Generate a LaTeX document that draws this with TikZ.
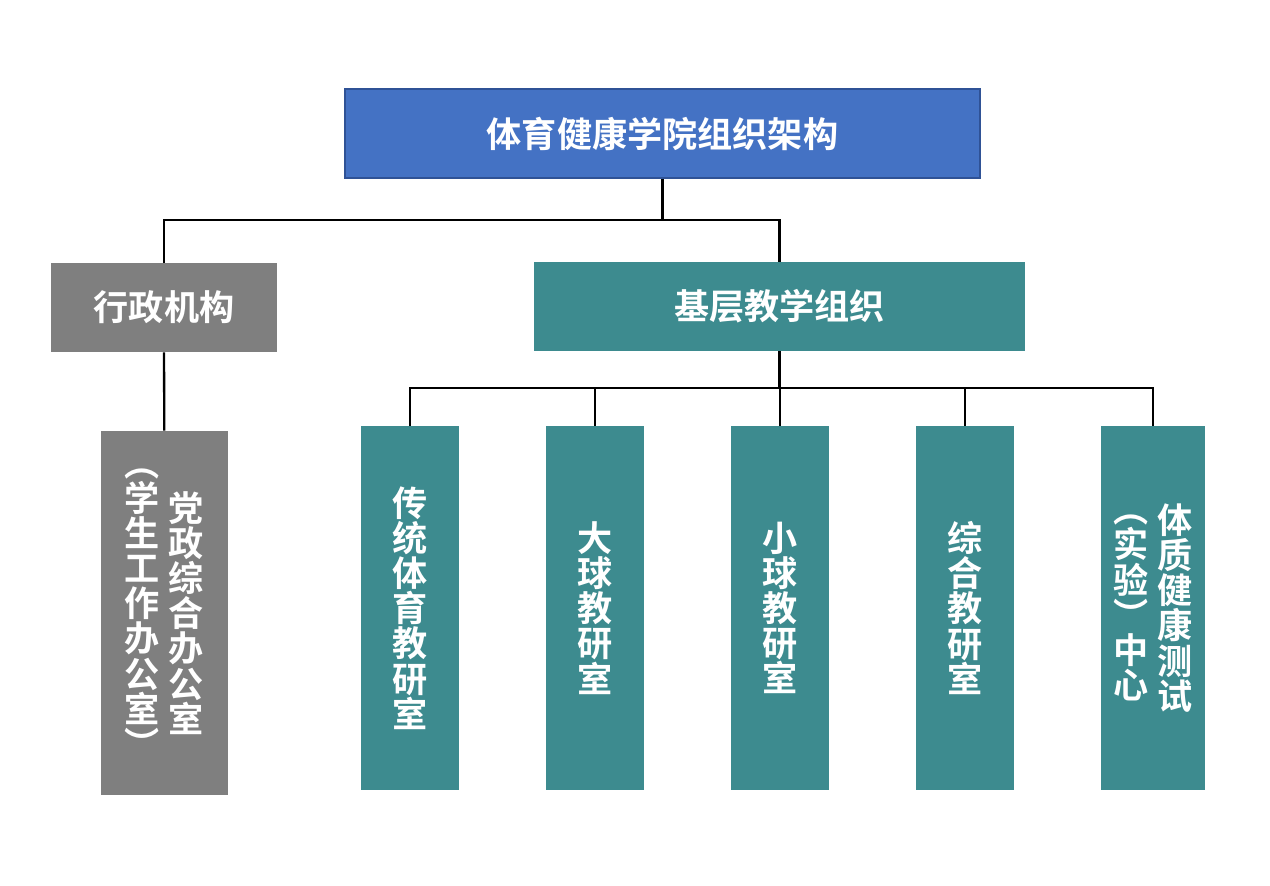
\documentclass[tikz,border=0pt]{standalone}
\usepackage{fontspec}
\setmainfont{Noto Sans CJK SC}[BoldFont=* Bold]
\usetikzlibrary{positioning}
\definecolor{topblue}{RGB}{68,114,196}
\definecolor{topedge}{RGB}{47,82,150}
\definecolor{admingray}{RGB}{127,127,127}
\definecolor{teachteal}{RGB}{61,139,143}
% one column of upright characters, top to bottom
\newcommand{\vcol}[1]{\parbox[c]{1em}{\centering #1}}
\tikzset{
	box/.style={inner sep=0pt, text=white, font=\fontsize{20}{20}\selectfont\bfseries},
	headbox/.style={box, fill=topblue, draw=topedge, line width=0.8pt, minimum width=12.7cm, minimum height=1.78cm},
	graybox/.style={box, fill=admingray},
	tealbox/.style={box, fill=teachteal},
	roombox/.style={tealbox, minimum width=1.96cm, minimum height=7.28cm},
	link/.style={line width=1.3pt, black}
}

\begin{document}
\begin{tikzpicture}[x=0.02cm, y=-0.02cm]
	\useasboundingbox (0,0) rectangle (1270,885);

	%top of the tree
	\node[headbox] (top) at (662.5,133.5) {体育健康学院组织架构};

	%second level
	\node[graybox, minimum width=4.52cm, minimum height=1.78cm] (admin) at (164,307.5) {行政机构};
	\node[tealbox, minimum width=9.82cm, minimum height=1.78cm] (teach) at (779.5,306.5) {基层教学组织};

	%third level
	\node[graybox, minimum width=2.54cm, minimum height=7.28cm] (office) at (164.5,613)
		{\vcol{︵\\学\\生\\工\\作\\办\\公\\室\\︶}\hspace{5pt}\vcol{党\\政\\综\\合\\办\\公\\室}};
	\node[roombox] (room1) at (410,608) {\vcol{传\\统\\体\\育\\教\\研\\室}};
	\node[roombox] (room2) at (595,608) {\vcol{大\\球\\教\\研\\室}};
	\node[roombox] (room3) at (780,608) {\vcol{小\\球\\教\\研\\室}};
	\node[roombox] (room4) at (965,608) {\vcol{综\\合\\教\\研\\室}};
	\node[roombox, minimum width=2.08cm] (room5) at (1153,608)
		{\vcol{︵\\实\\验\\︶\\中\\心}\hspace{5pt}\vcol{体\\质\\健\\康\\测\\试}};

	%joints
	\coordinate (j1) at (662.5,220);
	\coordinate (j2) at (779.5,388);

	%connectors
	\draw[link] (top) -- (j1) -| (admin);
	\draw[link] (j1) -| (teach);
	\draw[link] (admin) -- (office);
	\draw[link] (teach) -- (j2);
	\foreach \r in {room1,room2,room3,room4,room5}
		\draw[link] (j2) -| (\r);
\end{tikzpicture}
\end{document}
